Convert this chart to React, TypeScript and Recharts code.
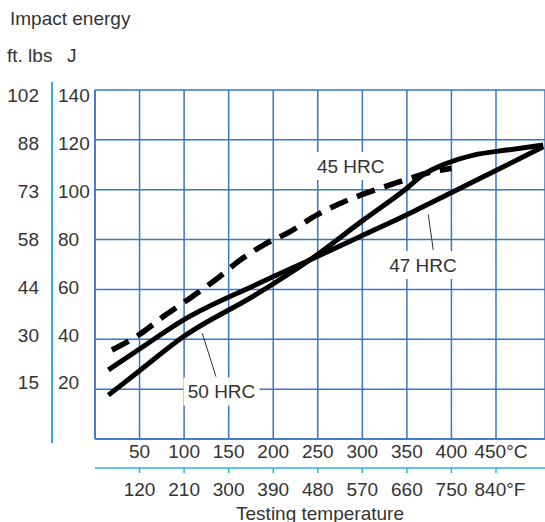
import {
  CartesianGrid,
  Line,
  LineChart,
  ReferenceDot,
  ReferenceLine,
  XAxis,
  YAxis,
} from "recharts";

const GRID_BLUE = "#3777c4";
const CYAN = "#2eaee3";
const TEXT = "#333333";
const FONT = '"Liberation Sans", Arial, Helvetica, sans-serif';
const FS = 19;

// axes
const celsiusTicks = [50, 100, 150, 200, 250, 300, 350, 400, 450];
const fahrenheitLabels = ["120", "210", "300", "390", "480", "570", "660", "750", "840°F"];
const jouleTicks = [20, 40, 60, 80, 100, 120, 140];
const ftLbsLabels = ["15", "30", "44", "58", "73", "88", "102"];

// curves, temperature in °C, impact energy in J
const hrc45Temp = [19, 49, 79, 109, 135, 163, 189, 219, 249, 275, 312, 342, 372, 400];
const hrc45Energy = [35.7, 41.7, 49.7, 57.1, 63.8, 71.8, 77.8, 83.2, 89.9, 94.5, 99.6, 103.2, 106.6, 108.6];

const hrc47Temp = [15, 50, 99, 180, 241, 301, 357, 402, 451, 503];
const hrc47Energy = [27.7, 36.1, 47.7, 61.8, 71.8, 81.8, 91.2, 99.2, 107.9, 117.2];

const hrc50Temp = [15, 50, 99, 180, 241, 301, 350, 368, 395, 425, 462, 503];
const hrc50Energy = [17.6, 27.4, 41.0, 57.8, 71.8, 87.8, 100.6, 105.9, 110.6, 113.9, 115.9, 117.9];

// curve captions (°C, J) and their leader lines
const captions = [
  { text: "45 HRC", temp: 287, energy: 109.5 },
  { text: "47 HRC", temp: 368, energy: 69.8 },
  { text: "50 HRC", temp: 142, energy: 19.0 },
];
const leaders = [
  [{ x: 374, y: 90.1 }, { x: 379.6, y: 75.8 }],
  [{ x: 120.4, y: 42.4 }, { x: 135.8, y: 25.0 }],
];

const toPoints = (temps: number[], energies: number[]) =>
  temps.map((temp, i) => ({ temp, energy: energies[i] }));

const hrc45 = toPoints(hrc45Temp, hrc45Energy);
const hrc47 = toPoints(hrc47Temp, hrc47Energy);
const hrc50 = toPoints(hrc50Temp, hrc50Energy);

const nearestIndex = (list: number[], v: number) => {
  let best = 0;
  list.forEach((t, i) => {
    if (Math.abs(t - v) < Math.abs(list[best] - v)) best = i;
  });
  return best;
};

function CelsiusTick({ x, y, payload }: any) {
  const v = payload.value as number;
  const last = nearestIndex(celsiusTicks, v) === celsiusTicks.length - 1;
  return (
    <text x={x + (last ? 5 : 0)} y={y} dy="0.71em" textAnchor="middle" fill={TEXT} fontSize={FS} fontFamily={FONT}>
      {last ? `${v}°C` : v}
    </text>
  );
}

function FahrenheitTick({ x, y, payload }: any) {
  const i = nearestIndex(celsiusTicks, payload.value);
  const last = i === celsiusTicks.length - 1;
  return (
    <text x={x + (last ? 4 : 0)} y={y} dy="0.71em" textAnchor="middle" fill={TEXT} fontSize={FS} fontFamily={FONT}>
      {fahrenheitLabels[i]}
    </text>
  );
}

// J label left-aligned next to the plot, ft.lbs label right-aligned left of the cyan rule
function EnergyTick({ x, y, payload }: any) {
  const i = nearestIndex(jouleTicks, payload.value);
  // printed labels sit on a slightly tighter spacing than the grid
  const shift = 5 - (jouleTicks.length - 1 - i) * 1.9;
  return (
    <g>
      <text x={x - 37} y={y + shift} dy="0.355em" textAnchor="start" fill={TEXT} fontSize={FS} fontFamily={FONT}>
        {jouleTicks[i]}
      </text>
      <text x={x - 56} y={y + shift} dy="0.355em" textAnchor="end" fill={TEXT} fontSize={FS} fontFamily={FONT}>
        {ftLbsLabels[i]}
      </text>
    </g>
  );
}

function Caption({ cx, cy, text }: any) {
  return (
    <g>
      <rect x={cx - 38} y={cy - 14} width={76} height={28} fill="#fff" />
      <text x={cx} y={cy} dy="0.36em" textAnchor="middle" fill={TEXT} fontSize={FS} fontFamily={FONT}>
        {text}
      </text>
    </g>
  );
}

export default function App() {
  return (
    <div style={{ position: "fixed", left: 0, top: 0, width: 545, height: 522, background: "#fff", fontFamily: FONT, color: TEXT }}>
      <div style={{ position: "absolute", left: 10, top: 9, fontSize: FS, lineHeight: "19px", whiteSpace: "nowrap" }}>
        Impact energy
      </div>
      <div style={{ position: "absolute", left: 7, top: 46, fontSize: FS, lineHeight: "19px", whiteSpace: "nowrap" }}>
        ft. lbs
      </div>
      <div style={{ position: "absolute", left: 67, top: 46, fontSize: FS, lineHeight: "19px" }}>J</div>

      <LineChart
        width={545}
        height={522}
        margin={{ top: 90, right: 0, bottom: 0, left: 52 }}
        style={{ position: "absolute", left: 0, top: 0 }}
      >
        <CartesianGrid xAxisId="a" yAxisId="a" stroke={GRID_BLUE} strokeWidth={1.5} />
        <XAxis
          xAxisId="a"
          dataKey="temp"
          type="number"
          domain={[0, 505]}
          ticks={celsiusTicks}
          interval={0}
          allowDataOverflow
          height={29}
          tickSize={0}
          tickMargin={6}
          tickLine={false}
          axisLine={{ stroke: GRID_BLUE, strokeWidth: 1.5 }}
          tick={<CelsiusTick />}
        />
        <XAxis
          xAxisId="b"
          dataKey="temp"
          type="number"
          domain={[0, 505]}
          ticks={celsiusTicks}
          interval={0}
          allowDataOverflow
          height={54}
          tickSize={5}
          tickMargin={10}
          tickLine={{ stroke: CYAN, strokeWidth: 1.5 }}
          axisLine={{ stroke: CYAN, strokeWidth: 1.5 }}
          tick={<FahrenheitTick />}
          label={{
            value: "Testing temperature",
            position: "insideBottom",
            offset: 2,
            fill: TEXT,
            fontSize: FS,
            fontFamily: FONT,
          }}
        />
        <YAxis
          yAxisId="a"
          dataKey="energy"
          type="number"
          domain={[0, 140]}
          ticks={jouleTicks}
          interval={0}
          width={43}
          tickSize={0}
          tickMargin={0}
          tickLine={false}
          axisLine={{ stroke: GRID_BLUE, strokeWidth: 1.5 }}
          tick={<EnergyTick />}
        />

        {captions.map((c) => (
          <ReferenceDot
            key={c.text}
            xAxisId="a"
            yAxisId="a"
            x={c.temp}
            y={c.energy}
            r={1}
            shape={(p: any) => <Caption cx={p.cx} cy={p.cy} text={c.text} />}
          />
        ))}
        {leaders.map((seg, i) => (
          <ReferenceLine key={i} xAxisId="a" yAxisId="a" segment={seg} stroke={TEXT} strokeWidth={1} />
        ))}

        <Line
          xAxisId="a"
          yAxisId="a"
          data={hrc45}
          dataKey="energy"
          type="monotone"
          stroke="#000"
          strokeWidth={5.5}
          strokeDasharray="19 10"
          strokeLinecap="butt"
          dot={false}
          activeDot={false}
          isAnimationActive={false}
        />
        <Line
          xAxisId="a"
          yAxisId="a"
          data={hrc47}
          dataKey="energy"
          type="monotone"
          stroke="#000"
          strokeWidth={5}
          dot={false}
          activeDot={false}
          isAnimationActive={false}
        />
        <Line
          xAxisId="a"
          yAxisId="a"
          data={hrc50}
          dataKey="energy"
          type="monotone"
          stroke="#000"
          strokeWidth={5}
          dot={false}
          activeDot={false}
          isAnimationActive={false}
        />
      </LineChart>

      {/* cyan rule between the ft.lbs and J scales */}
      <div style={{ position: "absolute", left: 51, top: 82, width: 2, height: 361, background: CYAN }} />
    </div>
  );
}
